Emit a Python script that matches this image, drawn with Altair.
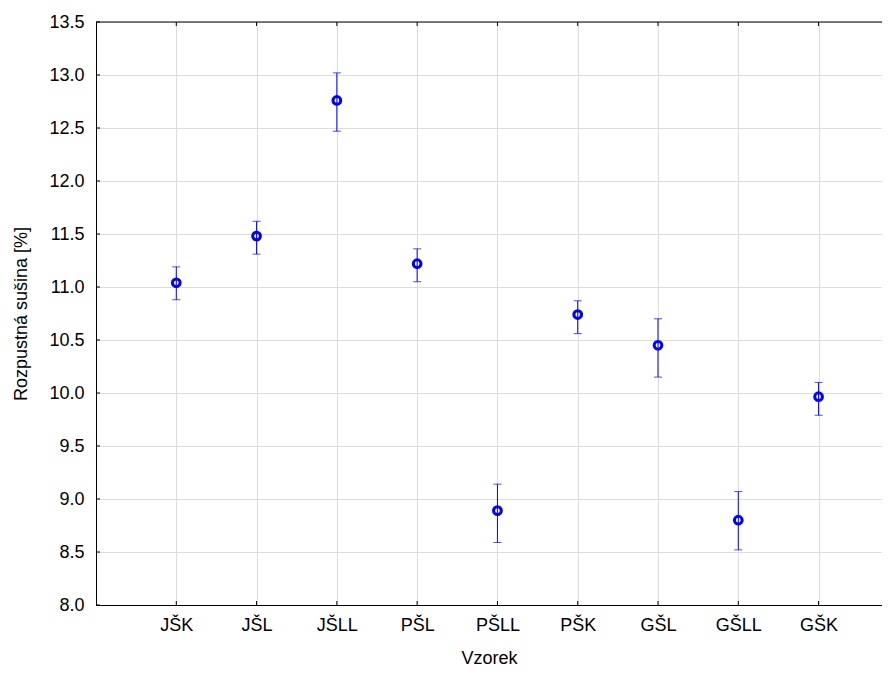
import json
import altair as alt
import pandas as pd

categories = ["JŠK", "JŠL", "JŠLL", "PŠL", "PŠLL", "PŠK", "GŠL", "GŠLL", "GŠK"]
means = [11.04, 11.48, 12.76, 11.22, 8.89, 10.74, 10.45, 8.80, 9.965]
lower = [10.88, 11.31, 12.47, 11.05, 8.59, 10.56, 10.15, 8.52, 9.79]
upper = [11.19, 11.62, 13.02, 11.36, 9.14, 10.87, 10.70, 9.07, 10.10]
y_ticks = [8.0, 8.5, 9.0, 9.5, 10.0, 10.5, 11.0, 11.5, 12.0, 12.5, 13.0, 13.5]

df = pd.DataFrame({
    "idx": list(range(1, len(categories) + 1)),
    "Vzorek": categories,
    "mean": means,
    "lo": lower,
    "hi": upper,
})
ticks_df = pd.DataFrame({"v": y_ticks})

W, H = 786, 583
FONT = "Liberation Sans"
BLUE = "#0000ff"

label_expr = "%s[datum.value - 1]" % json.dumps(categories, ensure_ascii=False)

xscale = alt.Scale(domain=[0, 9.79], nice=False, zero=False)
yscale = alt.Scale(domain=[8.0, 13.5], nice=False, zero=False)

xaxis = alt.Axis(
    values=list(range(1, len(categories) + 1)),
    labelExpr=label_expr,
    title="Vzorek",
    grid=True,
    gridColor="#dcdcdc",
    ticks=False,
    domainColor="#000000",
    labelFont=FONT, labelFontSize=18, labelColor="#000000", labelPadding=11,
    titleFont=FONT, titleFontSize=18, titleFontWeight="normal", titleColor="#000000",
    titlePadding=15,
)
yaxis = alt.Axis(
    values=y_ticks,
    format=".1f",
    title="Rozpustná sušina [%]",
    grid=True,
    gridColor="#dcdcdc",
    ticks=False,
    domainColor="#000000",
    labelFont=FONT, labelFontSize=18, labelColor="#000000", labelPadding=12,
    titleFont=FONT, titleFontSize=18, titleFontWeight="normal", titleColor="#000000",
    titlePadding=18,
)

base = alt.Chart(df)

bars = base.mark_rule(color=BLUE, strokeWidth=1).encode(
    x=alt.X("idx:Q", scale=xscale, axis=xaxis),
    y=alt.Y("lo:Q", scale=yscale, axis=yaxis),
    y2="hi:Q",
)
cap_lo = base.mark_tick(color=BLUE, orient="horizontal", size=8, thickness=1).encode(
    x=alt.X("idx:Q", scale=xscale), y=alt.Y("lo:Q", scale=yscale)
)
cap_hi = base.mark_tick(color=BLUE, orient="horizontal", size=8, thickness=1).encode(
    x=alt.X("idx:Q", scale=xscale), y=alt.Y("hi:Q", scale=yscale)
)
pts = base.mark_point(shape="circle", filled=False, color=BLUE, size=60, strokeWidth=3, opacity=1).encode(
    x=alt.X("idx:Q", scale=xscale), y=alt.Y("mean:Q", scale=yscale)
)

# inward ticks
xt_bottom = base.mark_rule(color="#000000", strokeWidth=1).encode(
    x=alt.X("idx:Q", scale=xscale), y=alt.value(H), y2=alt.value(H - 4)
)
xt_top = base.mark_rule(color="#000000", strokeWidth=1).encode(
    x=alt.X("idx:Q", scale=xscale), y=alt.value(0), y2=alt.value(4)
)
yt = alt.Chart(ticks_df).mark_rule(color="#000000", strokeWidth=1).encode(
    y=alt.Y("v:Q", scale=yscale), x=alt.value(0), x2=alt.value(4)
)
top_border = alt.Chart(ticks_df.head(1)).mark_rule(color="#000000", strokeWidth=1).encode(
    x=alt.value(0), x2=alt.value(W), y=alt.value(0)
)

chart = alt.layer(top_border, xt_bottom, xt_top, yt, bars, cap_lo, cap_hi, pts).properties(
    width=W, height=H,
    autosize=alt.AutoSizeParams(type="none"),
    padding={"left": 88, "top": 14, "right": 0, "bottom": 62},
).configure_view(stroke=None).configure(background="#ffffff")

chart.save("out.html", embed_options={"renderer": "svg", "actions": False})
